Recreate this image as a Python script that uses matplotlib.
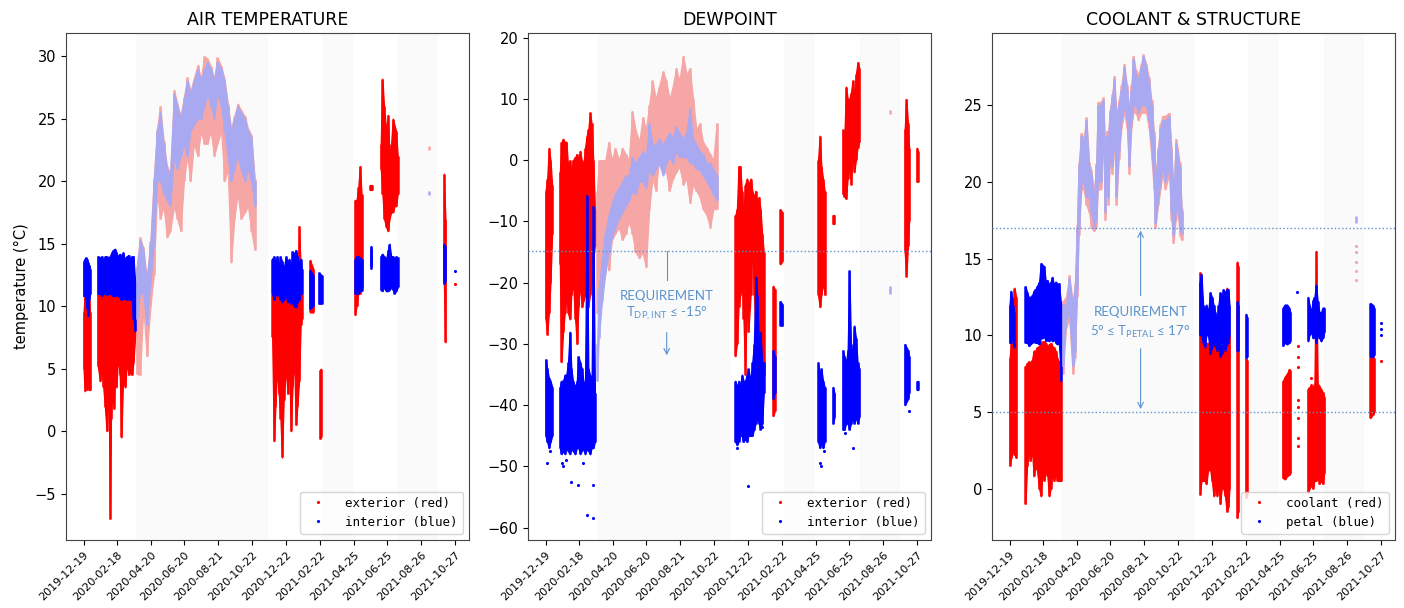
import numpy as np
import matplotlib
matplotlib.use("Agg")
import matplotlib.pyplot as plt
from matplotlib.lines import Line2D

# ---------------- data (day offsets from START, low, high) ----------------
START = np.datetime64("2019-12-19")
TICK_DATES = ["2019-12-19", "2020-02-18", "2020-04-20", "2020-06-20", "2020-08-21",
              "2020-10-22", "2020-12-22", "2021-02-22", "2021-04-25", "2021-06-25",
              "2021-08-26", "2021-10-27"]
TITLES = ["AIR TEMPERATURE", "DEWPOINT", "COOLANT & STRUCTURE"]
LEGENDS = [("exterior (red)", "interior (blue)"),
           ("exterior (red)", "interior (blue)"),
           ("coolant (red)", "petal (blue)")]
SHADE_BANDS = [(95, 337), (435, 492), (574, 646)]

# ---- AIR TEMPERATURE ----
air_ext = [
    [(0, 5.0, 9.5), (2, 3.2, 11.0), (4, 4.5, 11.0), (6, 3.3, 11.0), (8, 6.0, 11.0), (10, 3.3, 10.5), (12, 3.3, 9.5)],
    [(26, 5.2, 11.0), (30, 4.0, 11.2), (33, 5.0, 11.0), (36, 3.5, 11.0), (39, 1.9, 11.1), (42, 0.0, 11.0),
     (44, 2.0, 11.0), (46, 3.0, 11.1), (48, -7.0, 11.0), (50, 1.0, 10.9), (52, 3.0, 11.0), (55, 1.8, 11.0),
     (57, 4.0, 11.0), (60, 3.5, 10.8), (63, 6.0, 11.0), (66, 4.5, 10.8), (69, -0.5, 10.7), (72, 4.0, 10.8),
     (76, 3.5, 10.6), (79, 5.5, 10.6), (82, 4.5, 10.6), (85, 4.8, 10.5), (88, 4.5, 10.5), (91, 5.5, 9.5), (94, 7.5, 8.5)],
    [(344, 7.5, 11.0), (347, -0.8, 11.0), (350, 2.0, 11.0), (353, 5.0, 11.0), (356, 3.0, 11.2), (359, 1.0, 11.0),
     (362, -2.1, 10.5), (365, 2.5, 10.5), (369, 5.0, 10.8), (372, 3.0, 10.5), (375, 5.5, 10.5), (378, 0.0, 10.2),
     (381, 3.5, 10.3), (384, 6.0, 10.0), (387, 0.5, 10.0), (390, 2.0, 10.3), (393, 4.0, 16.4), (396, 8.5, 13.0), (398, 9.0, 11.0)],
    [(413, 9.5, 13.7), (419, 9.5, 13.0)],
    [(431, -0.6, 4.9), (433, -0.5, 5.0)],
    [(495, 9.3, 18.5), (498, 10.0, 18.5), (501, 11.0, 19.5), (504, 11.0, 21.2), (507, 11.5, 19.0)],
    [(523, 19.3, 19.7), (527, 19.3, 19.7)],
    [(542, 21.0, 23.0), (545, 19.0, 28.2), (548, 17.0, 26.0), (552, 16.3, 24.0), (555, 16.0, 25.3), (558, 17.0, 22.0),
     (561, 17.5, 23.0), (564, 17.5, 25.0), (567, 18.0, 24.5), (570, 18.0, 24.0), (573, 19.0, 22.0)],
    [(657, 12.0, 20.6), (660, 7.1, 17.0)],
]
air_ext_pts = [(678, 11.8)]
air_int = [
    [(0, 10.8, 13.6), (2, 11.0, 13.8), (4, 10.5, 13.9), (6, 9.8, 13.8), (8, 9.2, 13.5), (10, 10.5, 13.3), (12, 11.0, 13.0)],
    [(26, 11.0, 14.0), (30, 11.0, 13.9), (33, 10.8, 14.0), (36, 11.0, 13.6), (39, 11.0, 14.0), (42, 10.9, 14.0),
     (45, 11.0, 13.8), (48, 11.0, 14.0), (51, 10.9, 14.3), (54, 10.8, 14.5), (57, 10.8, 14.6), (60, 10.9, 14.3),
     (63, 10.8, 14.0), (66, 10.7, 14.2), (69, 10.5, 14.0), (72, 10.6, 14.3), (75, 10.6, 13.8), (79, 10.5, 14.0),
     (82, 10.6, 14.1), (85, 10.5, 13.7), (88, 10.5, 14.0), (91, 9.0, 14.0), (94, 8.0, 12.0)],
    [(344, 11.0, 13.8), (347, 10.5, 14.0), (350, 11.0, 13.5), (353, 10.8, 14.0), (356, 11.2, 13.2), (359, 10.5, 14.0),
     (362, 10.3, 13.6), (365, 10.5, 13.0), (369, 10.8, 14.0), (372, 10.3, 13.5), (375, 10.5, 13.8), (378, 10.2, 13.0),
     (381, 10.3, 14.4), (384, 10.0, 14.2), (387, 9.9, 14.5), (390, 10.3, 14.0), (393, 10.5, 13.5), (396, 11.0, 13.8), (398, 11.0, 13.0)],
    [(413, 9.8, 12.9), (419, 10.0, 12.5)],
    [(429, 10.2, 12.7), (434, 10.2, 12.5)],
    [(495, 11.0, 13.8), (498, 11.0, 14.0), (501, 11.0, 14.0), (504, 11.2, 13.9), (507, 11.2, 13.8)],
    [(524, 13.0, 14.8), (525, 13.2, 14.6)],
    [(542, 11.3, 14.0), (545, 11.2, 14.2), (548, 11.5, 14.0), (552, 11.2, 13.8), (555, 11.2, 14.5), (558, 11.3, 15.0),
     (561, 11.5, 14.0), (564, 11.3, 14.0), (567, 11.0, 13.8), (570, 11.2, 14.0), (573, 11.5, 13.9)],
    [(657, 11.8, 15.0), (660, 12.0, 14.8)],
]
air_int_pts = [(678, 12.8)]
air_ext_pale = [
    [(97, 4.6, 13.2), (103, 4.5, 15.5), (109, 10.0, 14.7), (115, 6.0, 12.2), (122, 10.0, 15.2), (128, 12.5, 20.2),
     (134, 19.0, 24.2), (140, 17.0, 26.0), (146, 18.0, 23.2), (152, 15.5, 21.2), (158, 16.0, 20.7), (165, 18.0, 27.3),
     (171, 17.0, 26.2), (177, 16.0, 25.2), (183, 20.0, 26.7), (189, 22.0, 28.3), (195, 20.0, 27.2), (201, 23.0, 28.2),
     (208, 22.0, 29.3), (214, 24.0, 28.2), (220, 23.0, 30.0), (226, 23.0, 29.8), (232, 24.0, 29.2), (238, 22.0, 28.2),
     (244, 23.0, 29.9), (251, 24.0, 29.2), (257, 20.0, 28.2), (263, 21.0, 26.2), (269, 13.5, 24.2), (275, 17.0, 25.2),
     (281, 19.0, 26.2), (287, 17.0, 25.7), (294, 17.5, 25.2), (300, 18.0, 24.2), (306, 16.0, 23.7), (312, 14.5, 20.2)],
    [(630, 22.5, 22.8)],
]
air_int_pale = [
    [(97, 9.0, 13.0), (103, 11.0, 15.3), (109, 11.0, 14.5), (115, 8.5, 12.0), (122, 12.0, 15.0), (128, 15.0, 20.0),
     (134, 20.0, 24.0), (140, 20.0, 25.5), (146, 19.0, 23.0), (152, 18.5, 21.0), (158, 18.0, 20.5), (165, 22.0, 27.0),
     (171, 21.0, 26.0), (177, 22.0, 25.0), (183, 23.0, 26.5), (189, 22.0, 28.0), (195, 24.0, 27.0), (201, 24.5, 28.0),
     (208, 25.0, 29.0), (214, 25.0, 28.0), (220, 26.0, 29.0), (226, 27.0, 29.5), (232, 26.0, 29.0), (238, 25.0, 28.0),
     (244, 27.0, 29.5), (251, 26.0, 29.0), (257, 24.0, 28.0), (263, 22.0, 26.0), (269, 20.0, 24.0), (275, 21.0, 25.0),
     (281, 22.0, 26.0), (287, 21.0, 25.5), (294, 20.0, 25.0), (300, 21.0, 24.0), (306, 20.0, 23.5), (312, 18.0, 20.0)],
    [(630, 18.9, 19.2)],
]

# ---- DEWPOINT ----
dew_ext = [
    [(0, -26, -5), (3, -28.5, -3), (6, -25, 2), (9, -20, 0), (12, -12, -4)],
    [(26, -17, -2), (29, -33, 3), (32, -28, 3.5), (35, -25, 3), (38, -22, 3), (41, -25, -1), (44, -26, 0),
     (47, -22, -2), (50, -20, 0), (54, -26, 0.5), (57, -30, 1), (60, -24, 0), (63, -20, 1.5), (66, -24, 0),
     (69, -23, -1), (72, -22, 2), (75, -20, 4), (78, -24, 5), (81, -22, 7.8), (84, -20, 6), (87, -16, 0), (90, -14, -8)],
    [(346, -32, -9), (349, -30, -8), (352, -24, -1), (355, -22, -1), (358, -20, -5), (361, -26, -9), (364, -35, -4),
     (367, -23, -3), (370, -28, -4), (374, -22, -3), (377, -13, -5), (380, -22, -6), (383, -29, -5), (386, -24, -7),
     (389, -33, -6), (392, -37, -8), (395, -38, -12), (398, -35, -15)],
    [(415, -41.8, -20.5), (418, -41, -21)],
    [(428, -17, -8), (432, -16.5, -8.5)],
    [(497, -22, 0), (500, -24, 4), (503, -22, -1), (506, -20, -3), (509, -22, -5)],
    [(524, -10.5, -9), (526, -10.5, -9)],
    [(542, -5.5, 5), (545, -6, 4), (548, -6.3, 12), (551, -3, 10), (554, -1, 10), (557, -4, 11), (560, 1, 13),
     (563, -2, 10), (566, 0, 14), (569, 2, 16), (572, 3, 15)],
    [(655, -15, 5), (658, -19, 10), (661, -14, 6), (663, -10, 2)],
    [(677, -3.5, 2), (679, -3.5, 1.5)],
]
dew_ext_pts = []
dew_int = [
    [(0, -45, -32.5), (3, -46, -34), (6, -47, -35.5), (9, -46, -36), (12, -45, -37)],
    [(26, -47, -37), (29, -48, -36), (32, -47.5, -36), (35, -48, -35), (38, -47, -35), (41, -47.5, -33),
     (44, -48, -28), (47, -47, -34), (50, -47.5, -36), (54, -48, -37), (57, -47, -36), (60, -47, -32),
     (63, -48, -33), (66, -47.5, -34), (69, -47, -36), (72, -48, -37), (75, -47, -5.7), (78, -47.5, -34),
     (81, -48, -35), (84, -47, -36), (87, -47, -7.5), (90, -46, -38)],
    [(346, -46, -36), (349, -46.5, -37), (352, -46, -36), (355, -45, -37), (358, -45, -35), (361, -46, -36),
     (364, -45.5, -36), (367, -46, -35), (370, -45, -34), (374, -45, -36), (377, -45, -33), (380, -44, -30),
     (383, -43, -19), (386, -42, -22), (389, -43, -30), (392, -44, -28), (395, -43, -33), (398, -38, -33)],
    [(415, -39, -31), (418, -38, -32)],
    [(428, -27, -23), (432, -27, -23.5)],
    [(497, -46, -33), (500, -47, -35), (503, -46, -34), (506, -47, -36), (509, -46, -37)],
    [(524, -43, -37), (527, -42, -38)],
    [(542, -44, -31), (545, -44, -32), (548, -43, -33), (551, -43, -31), (554, -44, -18), (557, -43, -30),
     (560, -42, -32), (563, -43, -27), (566, -42, -29), (569, -43, -33), (572, -42, -34)],
    [(655, -40, -30), (658, -39.5, -30.5), (661, -39, -31), (663, -38, -32)],
    [(677, -37.5, -36), (679, -37.5, -36)],
]
dew_int_pts = [(2, -49.5), (8, -47.5), (30, -49.5), (32, -50), (38, -49), (47, -52.6), (60, -53), (69, -49.5),
               (75, -58), (86, -58.4), (86, -53), (350, -47), (369, -53.2), (372, -44.5), (395, -43.5),
               (500, -49.5), (502, -50), (508, -47.5), (546, -44.5), (560, -47), (662, -41)]
dew_ext_pale = [
    [(94, -25, -5), (97, -22, 0), (103, -20, 0), (109, -15, 0), (115, -18, 3), (121, -13, 0), (127, -12, 2),
     (134, -11, 0), (140, -13, 2), (146, -12, 1), (152, -10, 0), (158, -12, 8), (164, -15, 5), (171, -16, 3),
     (177, -15, 7), (183, -17.5, 5), (189, -8, 9), (195, -3, 13), (201, -5, 10), (207, 0, 12), (214, -2, 14.5),
     (220, -2, 13), (226, -5, 10), (232, -3, 12), (238, -2, 15), (244, -1, 13), (251, -4, 17), (257, -3, 14),
     (263, -7, 15), (269, -4, 10), (275, -5, 5), (281, -6, 6), (287, -8, 3), (294, -9, 2), (300, -11, 1),
     (306, -8, 0), (312, -8, 6)],
    [(629, 7.5, 8.2)],
]
dew_int_pale = [
    [(94, -36, -30), (97, -29, -21), (103, -23, -16), (109, -18.5, -12), (115, -15, -9), (121, -12.5, -7),
     (127, -11, -5.5), (134, -9.5, -4.5), (140, -8.5, -3.5), (146, -7.5, -2.5), (152, -6.5, -2.5), (158, -5, 0.5),
     (164, -5.5, -0.5), (171, -3.5, 0.5), (177, -3.5, 1.5), (183, -4.5, 0.5), (189, -1.5, 6), (195, -2.5, 2.5),
     (201, -1.5, 2.5), (207, -0.5, 3.5), (214, -2.5, 2.5), (220, -0.5, 3.5), (226, 0.5, 4.5), (232, -0.5, 3.5),
     (238, 1.5, 5.5), (244, 0.5, 4.5), (251, 0.5, 3.5), (257, 0.5, 4.5), (263, -0.5, 8.5), (269, -0.5, 3.5),
     (275, -1.5, 2.5), (281, -1.5, 1.5), (287, -2.5, 1), (294, -3.5, -0.5), (300, -4.5, -0.5), (306, -5.5, -1.5),
     (312, -6.5, -2.5)],
    [(629, -21.8, -20.5)],
]

# ---- COOLANT & STRUCTURE ----
cool = [
    [(0, 1.5, 8.5), (3, 2.0, 9.5), (6, 2.5, 9.5), (9, 2.2, 13.1), (12, 2.0, 12.5)],
    [(29, -1.0, 8.0), (32, 1.5, 8.2), (35, 2.5, 8.3), (38, 1.8, 8.2), (41, 2.5, 8.4), (44, 0.8, 9.0), (47, 1.5, 9.0),
     (50, 1.2, 9.2), (54, 0.0, 9.3), (57, -0.5, 9.5), (60, 1.0, 9.6), (63, 0.5, 9.6), (66, 1.2, 9.5), (69, 0.8, 9.2),
     (72, -0.5, 9.4), (75, 0.0, 9.5), (78, 1.0, 9.3), (81, 0.5, 9.2), (84, 1.0, 9.0), (87, 0.5, 8.5), (90, 0.5, 8.3), (94, 0.5, 7.0)],
    [(347, -0.4, 14.1), (350, 0.5, 10.0), (353, 0.5, 9.5), (356, 0.5, 9.2), (359, 0.3, 9.5), (362, 1.2, 9.5),
     (366, 1.2, 8.8), (369, 0.5, 9.2), (372, -0.5, 9.5), (375, 0.2, 9.3), (378, -0.5, 9.0), (381, 0.3, 9.5),
     (384, -1.0, 8.6), (387, 0.0, 8.8), (390, 0.0, 9.5), (393, -0.5, 9.0), (396, -1.5, 13.1), (399, -1.2, 9.5), (401, 0.0, 10.0)],
    [(415, -1.9, 14.8), (417, -1.5, 14.5)],
    [(431, -0.6, 8.5), (433, -0.4, 8.4)],
    [(498, 0.7, 7.0), (502, 0.6, 7.3), (506, 0.8, 7.5), (510, 0.9, 7.8), (512, 1.0, 7.7)],
    [(544, -0.3, 6.5), (547, 0.0, 6.6), (550, 0.2, 6.8), (553, 0.0, 6.5), (556, 0.5, 6.8), (559, 0.5, 15.5),
     (562, 0.7, 6.8), (565, 0.3, 6.7), (568, 0.5, 6.5), (571, 0.3, 6.3), (574, 1.0, 6.0)],
    [(658, 4.6, 8.6), (662, 4.8, 8.6), (665, 5.0, 8.5)],
]
cool_pts = [(526, 9.3), (526, 8.6), (526, 7.9), (527, 5.8), (527, 5.3), (527, 4.6), (527, 3.3), (527, 2.8),
            (549, 7.2), (678, 8.3)]
petal = [
    [(0, 9.5, 12.0), (2, 9.5, 12.9), (4, 9.8, 12.5), (6, 9.6, 12.0), (8, 9.2, 11.5)],
    [(29, 9.5, 13.2), (32, 9.5, 12.8), (35, 9.3, 12.5), (38, 9.4, 12.5), (41, 9.5, 12.6), (44, 9.6, 12.9),
     (47, 9.5, 13.0), (50, 9.5, 13.2), (54, 9.4, 13.5), (57, 9.8, 14.7), (60, 9.8, 14.6), (63, 9.9, 14.5),
     (66, 9.6, 13.5), (69, 9.7, 13.6), (72, 9.6, 13.3), (75, 9.8, 13.5), (78, 9.6, 13.8), (81, 9.7, 13.3),
     (84, 9.5, 13.5), (87, 9.4, 13.3), (90, 9.5, 13.4), (94, 7.0, 12.0)],
    [(347, 10.0, 13.5), (350, 10.0, 14.0), (353, 9.5, 12.0), (356, 9.2, 11.7), (359, 10.0, 12.0), (362, 10.0, 11.5),
     (366, 8.8, 12.8), (369, 9.2, 12.5), (372, 9.5, 12.0), (375, 9.3, 11.5), (378, 9.0, 11.0), (381, 9.5, 12.0),
     (384, 8.6, 12.8), (387, 8.8, 12.5), (390, 9.5, 13.0), (393, 9.0, 12.8), (396, 9.4, 13.0), (399, 9.5, 13.0), (401, 10.0, 12.0)],
    [(415, 9.0, 12.2), (417, 9.0, 12.0)],
    [(431, 8.5, 11.4), (433, 8.6, 11.2)],
    [(498, 9.3, 11.8), (502, 9.5, 12.0), (506, 9.4, 12.0), (510, 9.5, 11.8), (512, 9.6, 11.5)],
    [(544, 9.6, 12.5), (547, 10.0, 12.0), (550, 10.2, 11.5), (553, 9.8, 12.3), (556, 9.9, 12.5), (559, 9.5, 13.3),
     (562, 10.0, 12.2), (565, 9.8, 11.5), (568, 9.6, 11.5), (571, 9.8, 11.8), (574, 10.2, 11.8)],
    [(658, 8.6, 12.1), (662, 8.6, 12.0), (665, 8.7, 11.8)],
]
petal_pts = [(525, 12.8), (678, 10.0), (678, 10.4), (678, 10.8)]
cool_pale = [
    [(97, 7.5, 12.2), (103, 10.5, 12.5), (109, 11.0, 13.9), (115, 7.5, 12.2), (119, 8.5, 13.3), (123, 12.5, 17.2),
     (126, 16.5, 21.2), (131, 19.5, 23.2), (135, 19.5, 22.8), (140, 18.5, 24.2), (145, 18.0, 21.3), (149, 17.0, 20.8),
     (154, 16.8, 19.3), (158, 17.0, 21.2), (161, 19.5, 25.2), (166, 19.5, 25.2), (171, 22.5, 25.5), (174, 17.5, 22.3),
     (177, 20.5, 23.3), (180, 18.5, 23.3), (183, 21.5, 24.7), (187, 20.5, 25.7), (191, 22.5, 26.9), (195, 18.5, 24.3),
     (199, 21.5, 25.3), (204, 23.5, 26.3), (209, 24.5, 27.7), (214, 23.5, 26.3), (218, 20.5, 24.8), (222, 23.5, 26.3),
     (226, 24.5, 28.2), (230, 24.5, 27.3), (235, 24.0, 27.0), (240, 24.5, 27.7), (244, 24.5, 28.3), (249, 24.5, 27.7),
     (254, 23.5, 26.8), (259, 21.5, 25.3), (263, 19.5, 23.3), (266, 17.0, 20.3), (271, 18.5, 22.3), (275, 19.5, 23.8),
     (279, 20.5, 24.3), (284, 19.5, 24.3), (291, 20.5, 24.5), (295, 17.5, 22.3), (299, 16.0, 19.3), (303, 17.5, 22.8),
     (306, 18.5, 22.3), (310, 16.5, 21.3), (314, 16.2, 18.2)],
]
cool_pale_pts = [(632, 13.6), (632, 14.2), (632, 14.8), (632, 15.4), (632, 15.8)]
petal_pale = [
    [(97, 8.0, 12.0), (103, 11.0, 12.0), (109, 11.5, 13.7), (115, 8.0, 12.0), (119, 9.0, 13.0), (123, 13.0, 17.0),
     (126, 17.0, 21.0), (131, 20.0, 23.0), (135, 20.0, 22.5), (140, 19.0, 24.0), (145, 19.0, 21.0), (149, 18.0, 20.5),
     (154, 17.0, 19.0), (158, 17.5, 21.0), (161, 20.0, 25.0), (166, 20.0, 25.0), (171, 23.0, 25.3), (174, 18.0, 22.0),
     (177, 21.0, 23.0), (180, 19.0, 23.0), (183, 22.0, 24.5), (187, 21.0, 25.5), (191, 23.0, 26.7), (195, 19.0, 24.0),
     (199, 22.0, 25.0), (204, 24.0, 26.0), (209, 25.0, 27.5), (214, 24.0, 26.0), (218, 21.0, 24.5), (222, 24.0, 26.0),
     (226, 25.0, 28.0), (230, 25.0, 27.0), (235, 24.5, 26.7), (240, 25.0, 27.5), (244, 25.0, 28.2), (249, 25.0, 27.5),
     (254, 24.0, 26.5), (259, 22.0, 25.0), (263, 20.0, 23.0), (266, 17.3, 20.0), (271, 19.0, 22.0), (275, 20.0, 23.5),
     (279, 21.0, 24.0), (284, 20.0, 24.0), (291, 21.0, 24.3), (295, 18.0, 22.0), (299, 16.5, 19.0), (303, 18.0, 22.5),
     (306, 19.0, 22.0), (310, 17.0, 21.0), (314, 16.6, 18.0)],
    [(632, 17.3, 17.8)],
]

# requirement lines / annotations
DEW_REQ = -14.8
PETAL_REQ = (5.0, 17.0)

# ---------------- styling ----------------
RED, BLUE = "#ff0000", "#0000ff"
PINK, LAV = "#f7a6a6", "#a9a9f2"
REQ_COL = "#5b93cc"
SHADE = "#fafafa"

plt.rcParams["font.family"] = ["DejaVu Sans"]

fig = plt.figure(figsize=(14.04, 6.08), dpi=100)
W, H = 1404.0, 608.0
lefts = [66, 528, 992]
axes = [fig.add_axes([l / W, 1 - 540 / H, 403 / W, 507 / H]) for l in lefts]

tick_pos = [int((np.datetime64(t) - START) / np.timedelta64(1, "D")) for t in TICK_DATES]


def draw_blocks(ax, blocks, color, z):
    for blk in blocks:
        d = np.array([b[0] for b in blk], float)
        lo = np.array([b[1] for b in blk], float)
        hi = np.array([b[2] for b in blk], float)
        if len(d) > 1:
            ax.fill_between(d, lo, hi, color=color, lw=0.9, zorder=z)
        ax.vlines(d, lo, hi, color=color, lw=1.8, zorder=z)


def draw_pts(ax, pts, color, z):
    if pts:
        ax.scatter([p[0] for p in pts], [p[1] for p in pts], s=5, color=color, lw=0, zorder=z)


panels = [
    (air_ext, air_ext_pts, air_int, air_int_pts, air_ext_pale, [], air_int_pale),
    (dew_ext, dew_ext_pts, dew_int, dew_int_pts, dew_ext_pale, [], dew_int_pale),
    (cool, cool_pts, petal, petal_pts, cool_pale, cool_pale_pts, petal_pale),
]
ylims = [(-8.7, 31.85), (-62.0, 20.75), (-3.35, 29.7)]

for i, ax in enumerate(axes):
    ext, ext_pts, intr, int_pts, ext_pale, ext_pale_pts, int_pale = panels[i]
    for a, b in SHADE_BANDS:
        ax.axvspan(a, b, color=SHADE, lw=0, zorder=0)
    draw_blocks(ax, ext, RED, 2)
    draw_pts(ax, ext_pts, RED, 2)
    draw_blocks(ax, ext_pale, PINK, 2)
    draw_pts(ax, ext_pale_pts, PINK, 2)
    draw_blocks(ax, intr, BLUE, 3)
    draw_pts(ax, int_pts, BLUE, 3)
    draw_blocks(ax, int_pale, LAV, 3)

    ax.set_xlim(-32, 703)
    ax.set_ylim(*ylims[i])
    ax.set_xticks(tick_pos)
    ax.set_xticklabels(TICK_DATES, rotation=45, ha="right", rotation_mode="anchor", fontsize=8)
    ax.tick_params(axis="y", labelsize=10.5)
    ax.set_title(TITLES[i], fontsize=12.5, pad=6)
    for s in ax.spines.values():
        s.set_color("#444444")

    handles = [Line2D([], [], ls="", marker=".", ms=2.5, color=RED),
               Line2D([], [], ls="", marker=".", ms=2.5, color=BLUE)]
    ax.legend(handles, LEGENDS[i], loc="lower right",
              prop={"family": "DejaVu Sans Mono", "size": 9}, handletextpad=1.2)

axes[0].set_ylabel("temperature (°C)", fontsize=10.5)

# dewpoint requirement
ax = axes[1]
ax.axhline(DEW_REQ, color=REQ_COL, ls=":", lw=1.0, zorder=4)
ax.plot([221, 221], [DEW_REQ, -19.5], color=REQ_COL, lw=0.8, zorder=4)
ax.annotate("", xy=(221, -32.3), xytext=(221, -27.7),
            arrowprops=dict(arrowstyle="->", color=REQ_COL, lw=0.8), zorder=4)
ax.text(221, -22.1, "REQUIREMENT", color=REQ_COL, fontsize=9.5, family="Lato",
        ha="center", va="center", zorder=4)
ax.text(221, -25.0, r"T$_{\mathregular{DP,INT}}$ ≤ -15°", color=REQ_COL, fontsize=9.5,
        family="Lato", ha="center", va="center", zorder=4)

# petal requirement
ax = axes[2]
for yv in PETAL_REQ:
    ax.axhline(yv, color=REQ_COL, ls=":", lw=1.0, zorder=4)
ax.annotate("", xy=(239, PETAL_REQ[1]), xytext=(239, 12.4),
            arrowprops=dict(arrowstyle="->", color=REQ_COL, lw=0.8), zorder=4)
ax.annotate("", xy=(239, PETAL_REQ[0]), xytext=(239, 9.3),
            arrowprops=dict(arrowstyle="->", color=REQ_COL, lw=0.8), zorder=4)
ax.text(239, 11.5, "REQUIREMENT", color=REQ_COL, fontsize=9.5, family="Lato",
        ha="center", va="center", zorder=4)
ax.text(239, 10.2, r"5° ≤ T$_{\mathregular{PETAL}}$ ≤ 17°", color=REQ_COL, fontsize=9.5,
        family="Lato", ha="center", va="center", zorder=4)

fig.savefig("out.png", dpi=100)
